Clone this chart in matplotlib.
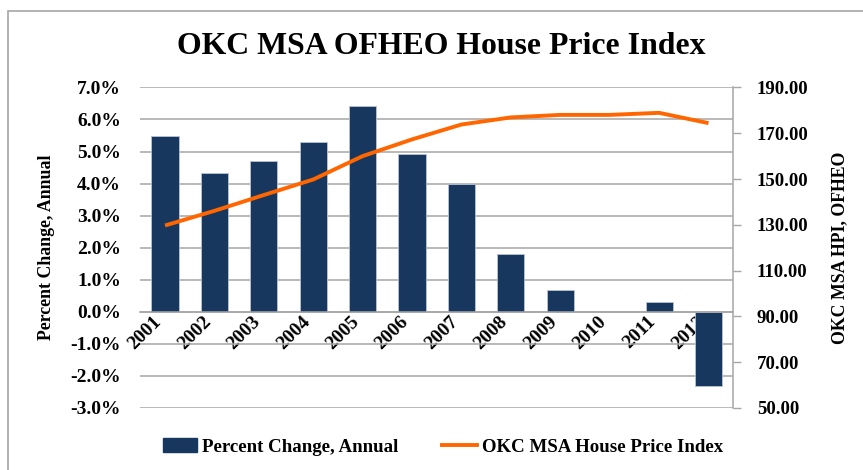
import matplotlib.pyplot as plt
import matplotlib.patches as mpatches
import numpy as np

years = ['2001', '2002', '2003', '2004', '2005', '2006',
         '2007', '2008', '2009', '2010', '2011', '2012']
pct_change = [5.48, 4.33, 4.71, 5.31, 6.43, 4.92, 3.98, 1.81, 0.69, 0.02, 0.31, -2.30]
hpi = [129.7, 136.1, 143.0, 149.8, 160.0, 167.3, 173.8, 176.9, 178.0, 178.0, 178.9, 174.4]

bar_color = '#17375E'
line_color = '#FF6600'
grid_color = '#A6A6A6'
font = 'Liberation Serif'

plt.rcParams['font.family'] = [font, 'DejaVu Serif']
plt.rcParams['font.weight'] = 'bold'

fig = plt.figure(figsize=(8.63, 4.70), dpi=100)
ax = fig.add_axes([0.1626, 0.132, 0.687, 0.682])
ax2 = ax.twinx()

x = np.arange(len(years))
ax.bar(x, pct_change, width=0.55, color=bar_color, edgecolor='#B9C3D3',
       linewidth=0.6, zorder=2)
ax2.plot(x, hpi, color=line_color, linewidth=2.8, solid_capstyle='butt', zorder=3)

ax.set_xlim(-0.5, len(years) - 0.5)
ax.set_ylim(-3, 7)
ax2.set_ylim(50, 190)

ax.set_yticks(np.arange(-3, 7.01, 1))
ax.set_yticklabels([f'{v:.1f}%' for v in np.arange(-3, 7.01, 1)])
ax2.set_yticks(np.arange(50, 190.01, 20))
ax2.set_yticklabels([f'{v:.2f}' for v in np.arange(50, 190.01, 20)])

ax.yaxis.grid(True, color=grid_color, linewidth=1.1, zorder=0)
ax.set_axisbelow(True)
ax.tick_params(axis='y', length=0, pad=14, labelsize=14)
ax2.tick_params(axis='y', length=6, width=1.0, color=grid_color, pad=11, labelsize=13.5)

for sp in ['top', 'left']:
    ax.spines[sp].set_visible(False)
    ax2.spines[sp].set_visible(False)
ax.spines['right'].set_visible(False)
ax2.spines['bottom'].set_visible(False)
ax2.spines['right'].set_color(grid_color)
ax2.spines['right'].set_linewidth(1.1)
ax.spines['bottom'].set_position(('data', 0))
ax.spines['bottom'].set_color(grid_color)
ax.spines['bottom'].set_linewidth(1.1)

ax.set_xticks(x)
ax.set_xticklabels(years, rotation=45, ha='right', va='top', fontsize=14)
ax.tick_params(axis='x', length=0, pad=1)

ax.set_ylabel('Percent Change, Annual', fontsize=12.8, fontweight='bold', labelpad=11)
ax2.set_ylabel('OKC MSA HPI, OFHEO', fontsize=12.8, fontweight='bold', labelpad=16)

fig.text(0.5116, 0.9, 'OKC MSA OFHEO House Price Index', ha='center', va='center',
         fontsize=22.9, fontweight='bold')

# chart border
fig.patches.append(mpatches.Rectangle((8 / 863, -0.05), 1.2, 1 - 11 / 470 + 0.05,
                                      transform=fig.transFigure, fill=False,
                                      edgecolor='#A6A6A6', linewidth=1.2))

h1 = mpatches.Patch(color=bar_color)
h2 = plt.Line2D([], [], color=line_color, linewidth=2.8)
fig.legend([h1, h2], ['Percent Change, Annual', 'OKC MSA House Price Index'],
           loc='center', bbox_to_anchor=(0.513, 0.049), ncol=2, frameon=False,
           handlelength=1.85, handletextpad=0.25, columnspacing=2.3,
           prop={'family': font, 'weight': 'bold', 'size': 13.6})

fig.savefig('out.png', dpi=100)
